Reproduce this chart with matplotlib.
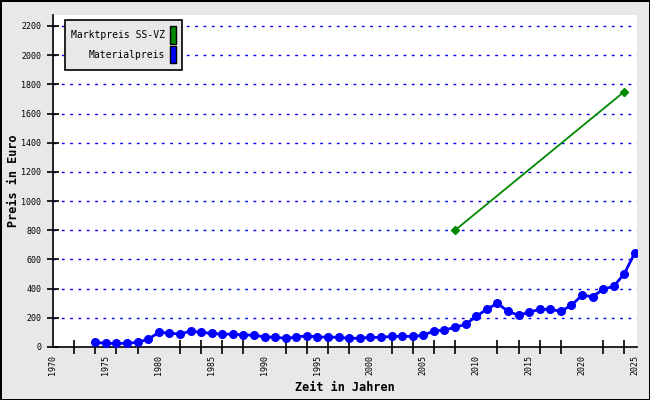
import numpy as np
import matplotlib.pyplot as plt
from matplotlib.patches import Patch

jahre = np.arange(1974, 2026)
materialpreis = [32, 25, 25, 25, 32, 53, 100, 96, 87, 110, 100, 94, 87, 89, 82, 82,
                 68, 68, 59, 68, 77, 68, 68, 66, 60, 60, 66, 66, 73, 73, 73, 80,
                 110, 116, 135, 155, 210, 258, 299, 245, 217, 238, 258, 258, 245, 286,
                 354, 345, 395, 416, 502, 646]
markt_jahre = [2008, 2024]
marktpreis = [800, 1750]

font = 'DejaVu Sans Mono'
fig = plt.figure(figsize=(6.5, 4), dpi=100, facecolor='#e8e8e8',
                 edgecolor='black', linewidth=2)
ax = fig.add_axes([53 / 650, 53 / 400, 584 / 650, 332 / 400])
ax.set_facecolor('white')

# Gitterlinien
for y in range(200, 2201, 200):
    ax.axhline(y, color='blue', linestyle=(0, (2, 4)), linewidth=1, zorder=1)

ax.plot(jahre, materialpreis, color='blue', marker='o', markersize=5.5,
        linewidth=2, zorder=3)
ax.plot(markt_jahre, marktpreis, color='#008800', marker='D', markersize=4,
        linewidth=1.3, zorder=3)

ax.set_xlim(1970, 2025.2)
ax.set_ylim(0, 2275)
for s in ['top', 'right']:
    ax.spines[s].set_visible(False)
ax.spines['left'].set_linewidth(1.2)
ax.spines['bottom'].set_linewidth(1.2)

ax.set_xticks(np.arange(1970, 2026, 5))
ax.set_xticks(np.arange(1970, 2026, 2), minor=True)
ax.set_xticklabels([str(j) for j in range(1970, 2026, 5)], rotation=90,
                   fontsize=6, family=font)
ax.tick_params(axis='x', which='major', length=0, pad=6)
ax.tick_params(axis='x', which='minor', direction='inout', length=10, width=1.2)
ax.set_yticks(range(0, 2201, 200))
ax.set_yticklabels([str(v) for v in range(0, 2201, 200)], fontsize=6, family=font)
ax.tick_params(axis='y', direction='inout', length=9, width=1.2, pad=4)

ax.set_xlabel('Zeit in Jahren', fontsize=8.5, fontweight='bold', family=font)
ax.set_ylabel('Preis in Euro', fontsize=8.5, fontweight='bold', family=font)
ax.xaxis.set_label_coords(0.5, -0.103)
ax.yaxis.set_label_coords(-0.057, 0.5)

handles = [Patch(facecolor='#008800', edgecolor='black'),
           Patch(facecolor='blue', edgecolor='black')]
leg = ax.legend(handles, ['Marktpreis SS-VZ', 'Materialpreis'], loc='upper left',
                bbox_to_anchor=(0.0205, 0.985), markerfirst=False, fancybox=False,
                framealpha=1, facecolor='#e8e8e8', edgecolor='black',
                prop={'family': font, 'size': 7}, handlelength=0.6,
                handleheight=2.4, handletextpad=0.5, labelspacing=0.2,
                borderpad=0.65, borderaxespad=0)
leg.get_frame().set_linewidth(1.2)
for t in leg.get_texts():
    t.set_ha('right')

fig.savefig('out.png', dpi=100, facecolor=fig.get_facecolor(),
            edgecolor=fig.get_edgecolor())
